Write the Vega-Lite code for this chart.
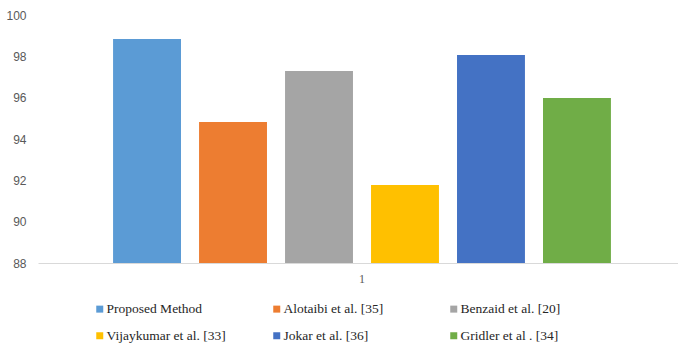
{
  "$schema": "https://vega.github.io/schema/vega-lite/v6.json",
  "autosize": {"type": "none"},
  "padding": {"left": 38, "top": 15, "right": 0, "bottom": 80},
  "width": 648,
  "height": 248,
  "background": "white",
  "config": {
    "view": {"stroke": null},
    "axis": {"labelColor": "#595959"}
  },
  "data": {
    "values": [
      {"run": "1", "method": "Proposed Method", "accuracy": 98.84},
      {"run": "1", "method": "Alotaibi et al. [35]", "accuracy": 94.82},
      {"run": "1", "method": "Benzaid et al. [20]", "accuracy": 97.29},
      {"run": "1", "method": "Vijaykumar et al. [33]", "accuracy": 91.77},
      {"run": "1", "method": "Jokar et al. [36]", "accuracy": 98.06},
      {"run": "1", "method": "Gridler et al . [34]", "accuracy": 95.98}
    ]
  },
  "mark": {"type": "bar", "clip": true},
  "encoding": {
    "x": {
      "field": "run",
      "type": "nominal",
      "scale": {"paddingInner": 0, "paddingOuter": 0.128},
      "axis": {
        "title": null,
        "labelAngle": 0,
        "labelFont": "Liberation Serif",
        "labelFontSize": 12,
        "labelPadding": 10,
        "ticks": false,
        "domainColor": "#d9d9d9",
        "domainWidth": 1
      }
    },
    "xOffset": {
      "field": "method",
      "type": "nominal",
      "sort": null,
      "scale": {"paddingInner": 0.21, "paddingOuter": 0.105}
    },
    "y": {
      "field": "accuracy",
      "type": "quantitative",
      "scale": {"domain": [88, 100], "zero": false, "nice": false},
      "axis": {
        "title": null,
        "values": [88, 90, 92, 94, 96, 98, 100],
        "grid": false,
        "domain": false,
        "ticks": false,
        "labelPadding": 12,
        "labelFont": "Liberation Sans",
        "labelFontSize": 12
      }
    },
    "color": {
      "field": "method",
      "type": "nominal",
      "sort": null,
      "scale": {
        "domain": ["Proposed Method", "Alotaibi et al. [35]", "Benzaid et al. [20]", "Vijaykumar et al. [33]", "Jokar et al. [36]", "Gridler et al . [34]"],
        "range": ["#5B9BD5", "#ED7D31", "#A5A5A5", "#FFC000", "#4472C4", "#70AD47"]
      },
      "legend": {
        "title": null,
        "orient": "none",
        "legendX": 55,
        "legendY": 287,
        "direction": "horizontal",
        "columns": 3,
        "gridAlign": "all",
        "columnPadding": 44,
        "rowPadding": 12,
        "symbolType": "square",
        "symbolSize": 49,
        "symbolStrokeWidth": 0,
        "symbolOffset": 0,
        "labelOffset": 0,
        "labelFont": "Liberation Serif",
        "labelFontSize": 13.5,
        "labelColor": "#262626",
        "labelLimit": 300
      }
    }
  }
}
